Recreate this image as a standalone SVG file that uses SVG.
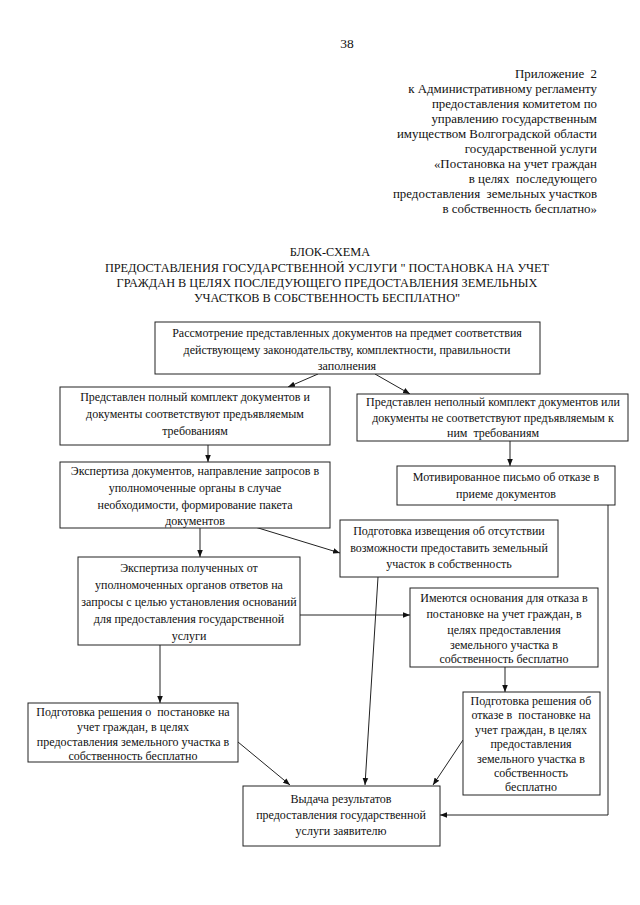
<svg xmlns="http://www.w3.org/2000/svg" width="640" height="905" viewBox="0 0 640 905">
<style>
text{font-family:"Liberation Serif","Times New Roman",serif;fill:#111}
.h{font-size:12.9px;text-anchor:end}
.p{font-size:13.5px;text-anchor:middle}
.t{font-size:12.3px;text-anchor:middle}
.b{font-size:12px;text-anchor:middle}
rect{fill:#fff;stroke:#222;stroke-width:1}
.c line,.c polyline{stroke:#222;stroke-width:1;fill:none}
</style>
<defs>
<marker id="a" viewBox="0 0 10 10" refX="10" refY="5" markerWidth="7" markerHeight="7" orient="auto" markerUnits="userSpaceOnUse"><path d="M0,1 L10,5 L0,9 z" fill="#111"/></marker>
</defs>
<rect x="0" y="0" width="640" height="905" style="stroke:none"/>
<text x="347" y="48" class="p">38</text>
<g id="header">
<text x="597" y="78" class="h">Приложение&#160; 2</text>
<text x="597" y="93" class="h">к Административному регламенту</text>
<text x="597" y="108" class="h">предоставления комитетом по</text>
<text x="597" y="123" class="h">управлению государственным</text>
<text x="597" y="138" class="h">имуществом Волгоградской области</text>
<text x="597" y="153" class="h">государственной услуги</text>
<text x="597" y="168" class="h">«Постановка на учет граждан</text>
<text x="597" y="183" class="h">в целях&#160; последующего</text>
<text x="597" y="198" class="h">предоставления&#160; земельных участков</text>
<text x="597" y="213" class="h">в собственность бесплатно»</text>
</g>
<g id="title">
<text x="330" y="256" class="t">БЛОК-СХЕМА</text>
<text x="327" y="272" class="t">ПРЕДОСТАВЛЕНИЯ ГОСУДАРСТВЕННОЙ УСЛУГИ " ПОСТАНОВКА НА УЧЕТ</text>
<text x="327" y="287" class="t">ГРАЖДАН В ЦЕЛЯХ ПОСЛЕДУЮЩЕГО ПРЕДОСТАВЛЕНИЯ ЗЕМЕЛЬНЫХ</text>
<text x="327" y="302" class="t">УЧАСТКОВ В СОБСТВЕННОСТЬ БЕСПЛАТНО"</text>
</g>
<g class="c" id="connectors">
<line x1="318" y1="374" x2="288" y2="387" marker-end="url(#a)"/>
<line x1="375" y1="374" x2="410" y2="394" marker-end="url(#a)"/>
<line x1="208" y1="445" x2="208" y2="462" marker-end="url(#a)"/>
<line x1="510" y1="441" x2="510" y2="466" marker-end="url(#a)"/>
<line x1="255" y1="527" x2="340" y2="553" marker-end="url(#a)"/>
<line x1="200" y1="528" x2="200" y2="557" marker-end="url(#a)"/>
<line x1="300" y1="615" x2="410" y2="615" marker-end="url(#a)"/>
<line x1="160" y1="645" x2="160" y2="703" marker-end="url(#a)"/>
<line x1="505" y1="667" x2="505" y2="692" marker-end="url(#a)"/>
<line x1="238" y1="742" x2="290" y2="785" marker-end="url(#a)"/>
<line x1="378" y1="577" x2="365" y2="785" marker-end="url(#a)"/>
<line x1="463" y1="740" x2="433" y2="785" marker-end="url(#a)"/>
<polyline points="608,505 608,815 440,815" marker-end="url(#a)"/>
</g>
<g id="n1"><rect x="155" y="322" width="385" height="52"/>
<text x="347" y="337" class="b">Рассмотрение представленных документов на предмет соответствия</text>
<text x="347" y="354" class="b">действующему законодательству, комплектности, правильности</text>
<text x="347" y="370" class="b">заполнения</text></g>
<g id="n2"><rect x="60" y="387" width="270" height="58"/>
<text x="195" y="401" class="b">Представлен полный комплект документов и</text>
<text x="195" y="418" class="b">документы соответствуют предъявляемым</text>
<text x="195" y="435" class="b">требованиям</text></g>
<g id="n3"><rect x="357" y="394" width="271" height="47"/>
<text x="493" y="406" class="b">Представлен неполный комплект документов или</text>
<text x="493" y="422" class="b">документы не соответствуют предъявляемым к</text>
<text x="493" y="437" class="b">ним&#160; требованиям</text></g>
<g id="n4"><rect x="60" y="462" width="270" height="66"/>
<text x="195" y="475" class="b">Экспертиза документов, направление запросов в</text>
<text x="195" y="492" class="b">уполномоченные органы в случае</text>
<text x="195" y="509" class="b">необходимости, формирование пакета</text>
<text x="195" y="525" class="b">документов</text></g>
<g id="n5"><rect x="397" y="466" width="218" height="39"/>
<text x="506" y="481" class="b">Мотивированное письмо об отказе в</text>
<text x="506" y="498" class="b">приеме документов</text></g>
<g id="n6"><rect x="340" y="520" width="218" height="57"/>
<text x="449" y="535" class="b">Подготовка извещения об отсутствии</text>
<text x="449" y="552" class="b">возможности предоставить земельный</text>
<text x="449" y="568" class="b">участок в собственность</text></g>
<g id="n7"><rect x="78" y="557" width="222" height="88"/>
<text x="189" y="572" class="b">Экспертиза полученных от</text>
<text x="189" y="589" class="b">уполномоченных органов ответов на</text>
<text x="189" y="606" class="b">запросы с целью установления оснований</text>
<text x="189" y="623" class="b">для предоставления государственной</text>
<text x="189" y="640" class="b">услуги</text></g>
<g id="n8"><rect x="410" y="588" width="188" height="79"/>
<text x="504" y="602" class="b">Имеются основания для отказа в</text>
<text x="504" y="618" class="b">постановке на учет граждан, в</text>
<text x="504" y="634" class="b">целях предоставления</text>
<text x="504" y="649" class="b">земельного участка в</text>
<text x="504" y="663" class="b">собственность бесплатно</text></g>
<g id="n9"><rect x="28" y="703" width="210" height="59"/>
<text x="133" y="716" class="b">Подготовка решения о&#160; постановке на</text>
<text x="133" y="731" class="b">учет граждан, в целях</text>
<text x="133" y="746" class="b">предоставления земельного участка в</text>
<text x="133" y="760" class="b">собственность бесплатно</text></g>
<g id="n10"><rect x="463" y="692" width="137" height="103"/>
<text x="531" y="705" class="b">Подготовка решения об</text>
<text x="531" y="719" class="b">отказе в&#160; постановке на</text>
<text x="531" y="734" class="b">учет граждан, в целях</text>
<text x="531" y="748" class="b">предоставления</text>
<text x="531" y="763" class="b">земельного участка в</text>
<text x="531" y="777" class="b">собственность</text>
<text x="531" y="791" class="b">бесплатно</text></g>
<g id="n11"><rect x="243" y="786" width="197" height="60"/>
<text x="341" y="803" class="b">Выдача результатов</text>
<text x="341" y="819" class="b">предоставления государственной</text>
<text x="341" y="835" class="b">услуги заявителю</text></g>
</svg>
